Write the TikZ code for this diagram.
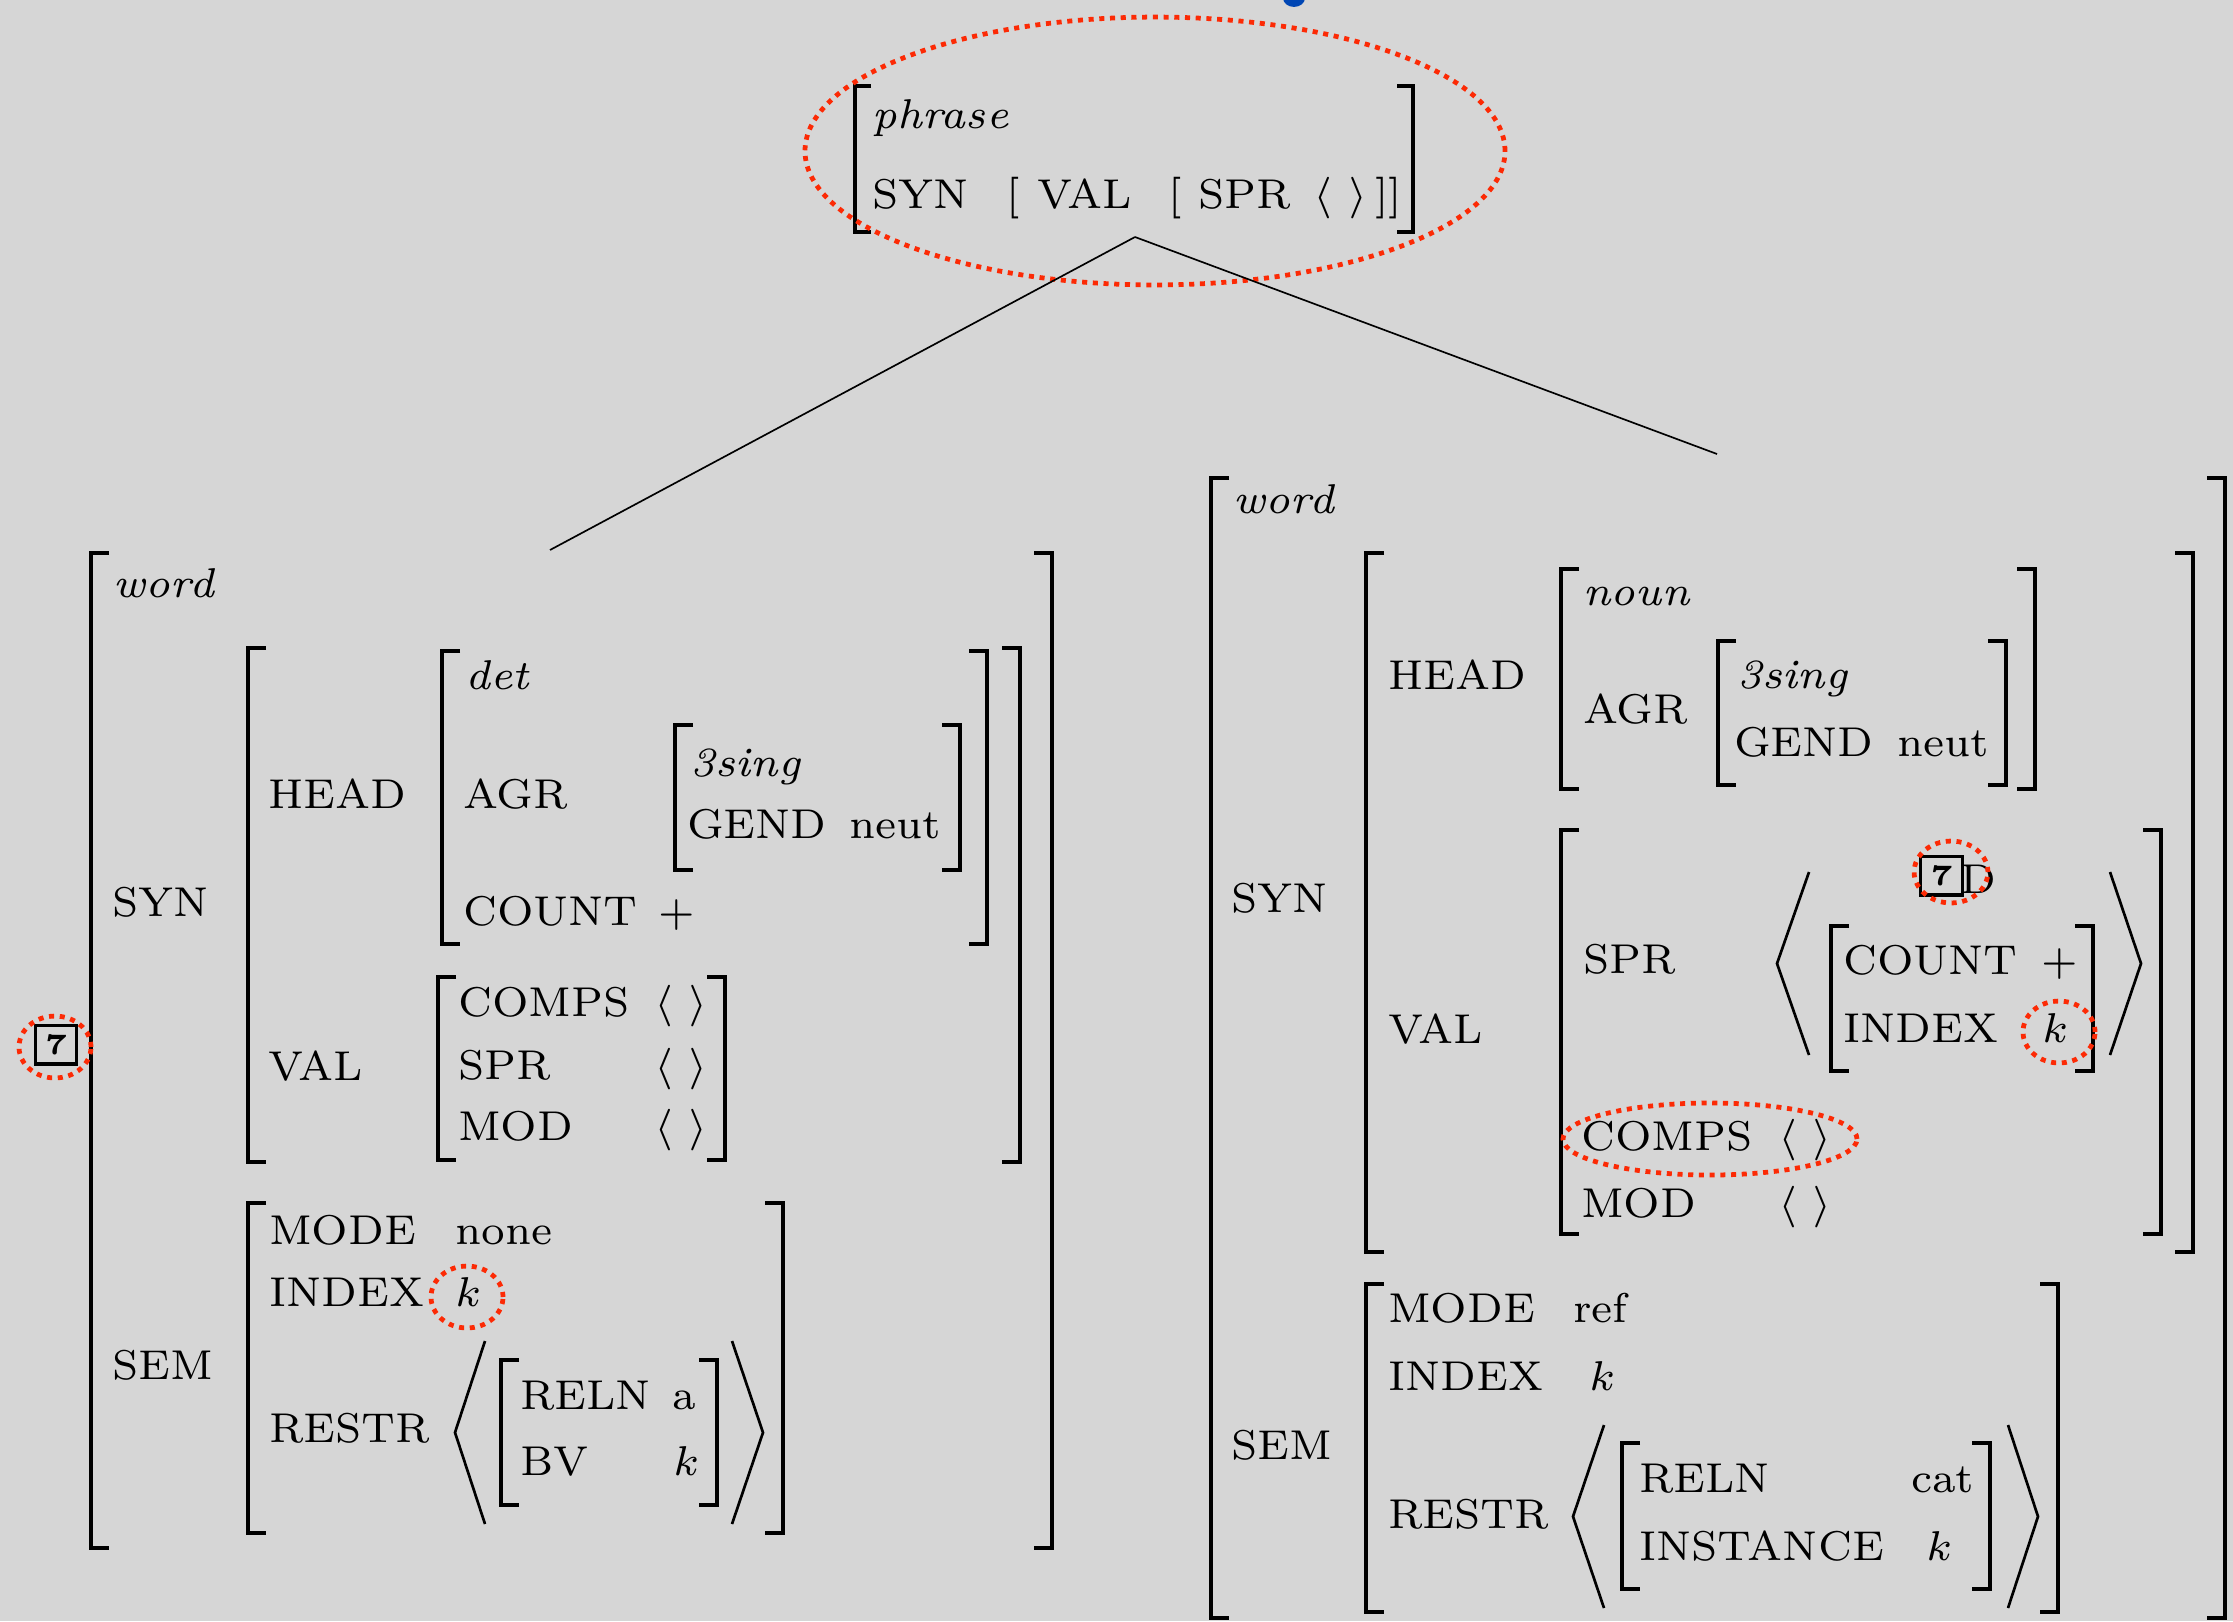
\documentclass[tikz,border=0pt]{standalone}
\definecolor{bgc}{RGB}{214,214,214}
\definecolor{redc}{RGB}{252,42,5}
\definecolor{bluec}{RGB}{0,70,180}
\newcommand\avmfont{\fontsize{7}{8}\selectfont}
\newcommand\avang{$\langle$\hspace{2.5pt}$\rangle$}
\newcommand\lbrk[4][18]{\draw[brk] (#2+#1,#3) -- (#2,#3) -- (#2,#4) -- (#2+#1,#4);}
\newcommand\rbrk[4][18]{\draw[brk] (#2-#1,#3) -- (#2,#3) -- (#2,#4) -- (#2-#1,#4);}
\newcommand\bigang[4]{\draw[angl] (#2,#3) -- (#1,{(#3+#4)/2}) -- (#2,#4);}
\tikzset{
  tx/.style={anchor=base west, inner sep=0pt, outer sep=0pt, font=\avmfont},
  brk/.style={line width=0.62pt, line cap=butt, line join=miter},
  angl/.style={line width=0.45pt, line join=miter},
  redo/.style={draw=redc, line width=0.8pt, dash pattern=on 0.85pt off 0.95pt},
  tree/.style={line width=0.28pt},
  tagbox/.style={draw, line width=0.55pt, minimum width=7pt, minimum height=6.5pt, inner sep=0pt, anchor=center, font=\fontsize{5}{6}\selectfont\bfseries}
}
\begin{document}
\begin{tikzpicture}[x=0.168pt, y=-0.168pt]
\useasboundingbox (0,0) rectangle (2233,1621);
\fill[bgc] (0,0) rectangle (2233,1621);
\begin{scope}
\clip (0,0) rectangle (2233,1621);
\fill[bluec] (1294,-2) ellipse [x radius=1.85pt, y radius=1.5pt];
\end{scope}

% ---------- top phrase ----------
\lbrk[16]{855}{86}{232}
\rbrk[16]{1413}{86}{232}
\node[tx] (phr) at (872,128) {\itshape phrase};
\node[tx] (tsyn) at (872,208) {SYN};
\node[tx] (tb1) at (1006,208) {[};
\node[tx] (tval) at (1037,208) {VAL};
\node[tx] (tb2) at (1168,208) {[};
\node[tx] (tspr) at (1198,208) {SPR};
\node[tx] (tla) at (1313,208) {$\langle$};
\node[tx] (tra) at (1348,208) {$\rangle$};
\node[tx] (tbb) at (1375,208) {]]};
\draw[redo] (1155,151) ellipse [x radius=58.8pt, y radius=22.5pt];

% ---------- tree ----------
\coordinate (apex) at (1135,237);
\coordinate (lend) at (550,550);
\coordinate (rend) at (1717,454);
\draw[tree] (apex) -- (lend);
\draw[tree] (apex) -- (rend);

% ---------- left word ----------
\lbrk{91}{553}{1548}
\rbrk{1052}{553}{1548}
\lbrk{248}{648}{1162}
\rbrk{1020}{648}{1162}
\lbrk{442}{651}{944}
\rbrk{987}{651}{944}
\lbrk{675}{725}{870}
\rbrk{960}{725}{870}
\lbrk{438}{977}{1160}
\rbrk{725}{977}{1160}
\lbrk{248}{1203}{1533}
\rbrk{783}{1203}{1533}
\lbrk{501}{1360}{1505}
\rbrk{717}{1360}{1505}
\bigang{455}{485}{1341}{1524}
\bigang{763}{732}{1341}{1524}

\node[tx] (lword) at (113,597) {\itshape word};
\node[tx] (lsyn) at (112,916) {SYN};
\node[tx] (lhead) at (268,808) {HEAD};
\node[tx] (ldet) at (465,689) {\itshape det};
\node[tx] (lagr) at (463,808) {AGR};
\node[tx] (l3s) at (690,776) {\itshape 3sing};
\node[tx] (lgend) at (687,838) {GEND};
\node[tx] (lneut) at (849,838) {neut};
\node[tx] (lcount) at (463,925) {COUNT};
\node[tx] (lplus) at (658,925) {$+$};
\node[tx] (lval) at (268,1080) {VAL};
\node[tx] (lcomps) at (458,1016) {COMPS};
\node[tx] (lcompsv) at (654,1016) {\avang};
\node[tx] (lspr) at (458,1079) {SPR};
\node[tx] (lsprv) at (654,1079) {\avang};
\node[tx] (lmod) at (458,1140) {MOD};
\node[tx] (lmodv) at (654,1140) {\avang};
\node[tagbox] (ltag) at (56,1044.5) {7};
\node[tx] (lsem) at (112,1379) {SEM};
\node[tx] (lmode) at (269,1244) {MODE};
\node[tx] (lnone) at (455,1244) {none};
\node[tx] (lindex) at (269,1306) {INDEX};
\node[tx] (lk) at (455,1306) {$k$};
\node[tx] (lrestr) at (269,1442) {RESTR};
\node[tx] (lreln) at (520,1409) {RELN};
\node[tx] (la) at (672,1409) {a};
\node[tx] (lbv) at (520,1475) {BV};
\node[tx] (lbvk) at (673,1475) {$k$};
\draw[redo] (55,1047) ellipse [x radius=6.05pt, y radius=5.2pt];
\draw[redo] (467,1297) ellipse [x radius=6.05pt, y radius=5.2pt];

% ---------- right word ----------
\lbrk{1211}{478}{1618}
\rbrk{2225}{478}{1618}
\lbrk{1366}{553}{1252}
\rbrk{2193}{553}{1252}
\lbrk{1561}{569}{789}
\rbrk{2035}{569}{789}
\lbrk{1718}{641}{785}
\rbrk{2006}{641}{785}
\lbrk{1561}{830}{1234}
\rbrk{2161}{830}{1234}
\lbrk{1831}{926}{1071}
\rbrk{2093}{926}{1071}
\bigang{1777}{1809}{872}{1055}
\bigang{2141}{2110}{872}{1055}
\lbrk{1366}{1284}{1612}
\rbrk{2058}{1284}{1612}
\lbrk{1622}{1443}{1589}
\rbrk{1990}{1443}{1589}
\bigang{1573}{1604}{1425}{1608}
\bigang{2038}{2008}{1425}{1608}

\node[tx] (rword) at (1233,513) {\itshape word};
\node[tx] (rsyn) at (1231,912) {SYN};
\node[tx] (rhead) at (1388,689) {HEAD};
\node[tx] (rnoun) at (1583,605) {\itshape noun};
\node[tx] (ragr) at (1583,723) {AGR};
\node[tx] (r3s) at (1737,688) {\itshape 3sing};
\node[tx] (rgend) at (1734,756) {GEND};
\node[tx] (rneut) at (1897,756) {neut};
\node[tx] (rval) at (1388,1043) {VAL};
\node[tx] (rspr) at (1583,973) {SPR};
\node[tx] (rd) at (1960,893) {D};
\node[tagbox] (rtag) at (1941.5,875.5) {7};
\node[tx] (rcount) at (1843,974) {COUNT};
\node[tx] (rplus) at (2041,974) {$+$};
\node[tx] (rindex) at (1843,1042) {INDEX};
\node[tx] (rk) at (2042,1042) {$k$};
\node[tx] (rcomps) at (1581,1150) {COMPS};
\node[tx] (rcompsv) at (1778,1150) {\avang};
\node[tx] (rmod) at (1581,1217) {MOD};
\node[tx] (rmodv) at (1778,1217) {\avang};
\node[tx] (rsem) at (1231,1459) {SEM};
\node[tx] (rmode) at (1388,1322) {MODE};
\node[tx] (rref) at (1573,1322) {ref};
\node[tx] (rindex2) at (1388,1390) {INDEX};
\node[tx] (rk2) at (1589,1390) {$k$};
\node[tx] (rrestr) at (1388,1528) {RESTR};
\node[tx] (rreln) at (1639,1492) {RELN};
\node[tx] (rcat) at (1911,1492) {cat};
\node[tx] (rinst) at (1639,1560) {INSTANCE};
\node[tx] (rik) at (1926,1560) {$k$};
\draw[redo] (1951,872) ellipse [x radius=6.2pt, y radius=5.2pt];
\draw[redo] (2059,1032) ellipse [x radius=6.05pt, y radius=5.2pt];
\draw[redo] (1710,1139) ellipse [x radius=24.7pt, y radius=6.05pt];
\end{tikzpicture}
\end{document}
